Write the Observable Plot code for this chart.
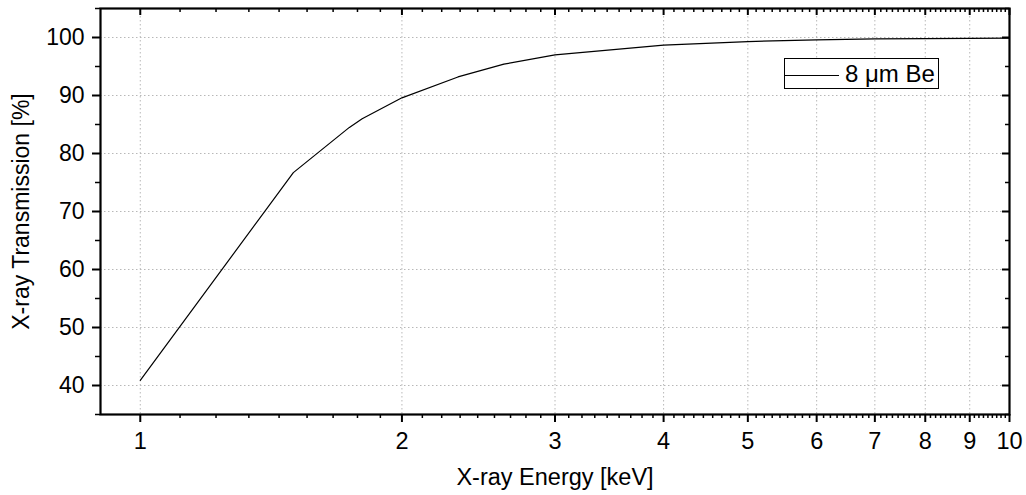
<!DOCTYPE html>
<html>
<head>
<meta charset="utf-8">
<script src="https://cdn.jsdelivr.net/npm/d3@7"></script>
<script src="https://cdn.jsdelivr.net/npm/@observablehq/plot@0.6"></script>
<style>
  html, body { margin: 0; padding: 0; background: #fff; }
  #wrap { position: relative; width: 1026px; height: 495px; font-family: "Liberation Sans", Arial, sans-serif; }
  #legend { position: absolute; left: 784px; top: 58px; width: 153px; height: 29px; border: 1px solid #000; background: #fff; box-sizing: content-box; }
  #legend .ln { position: absolute; left: 0; top: 16px; width: 54px; height: 0; border-top: 1px solid #000; }
  #legend .tx { position: absolute; left: 60px; top: 1px; font-size: 24px; line-height: 28px; color: #000; white-space: nowrap; }
</style>
</head>
<body>
<div id="wrap"><div id="chart"></div>
<div id="legend"><div class="ln"></div><div class="tx">8 μm Be</div></div></div>
<script>
// Data
const energyKeV = [1, 1.5, 1.74, 1.8, 2, 2.32, 2.62, 3, 4, 5, 6, 7, 8, 9, 10];
const transmission = [40.9, 76.7, 84.5, 86.0, 89.6, 93.2, 95.4, 97.0, 98.7, 99.3, 99.6, 99.75, 99.8, 99.85, 99.9];
const seriesName = "8 μm Be";

const xMajorTicks = [1, 2, 3, 4, 5, 6, 7, 8, 9, 10];
const yMajorTicks = [40, 50, 60, 70, 80, 90, 100];
const yMinorTicks = [35, 45, 55, 65, 75, 85, 95, 105];

const xMinorTicks = [];
for (let n = 1; n < 10; n++) for (let k = 1; k < 9; k++) xMinorTicks.push(n + k / 9);

const data = energyKeV.map((e, i) => ({e, t: transmission[i]}));

const W = 1026, H = 495;
const mL = 100, mR = 17, mT = 8, mB = 81;
const frameW = W - mL - mR, frameH = H - mT - mB;
const font = "Liberation Sans, Arial, sans-serif";
const gridStyle = {stroke: "#b8b8b8", strokeOpacity: 1, strokeDasharray: "1.5,2.5", strokeWidth: 1};

const chart = Plot.plot({
  width: W, height: H,
  marginLeft: mL, marginRight: mR, marginTop: mT, marginBottom: mB,
  style: {fontFamily: font, fontSize: "23px", color: "#000", background: "#fff"},
  x: {type: "log", domain: [0.9, 10]},
  y: {domain: [35, 105]},
  marks: [
    Plot.gridX(xMajorTicks, gridStyle),
    Plot.gridY(yMajorTicks, gridStyle),
    Plot.line(data, {x: "e", y: "t", stroke: "#000", strokeWidth: 1.2}),
    // bottom axis
    Plot.axisX(xMinorTicks, {anchor: "bottom", tickSize: 4, text: null, strokeWidth: 1.5, label: null}),
    Plot.axisX(xMajorTicks, {anchor: "bottom", tickSize: 8, tickPadding: 10, strokeWidth: 2, fontSize: 23.5,
      tickFormat: d => String(d), label: "X-ray Energy [keV]", labelAnchor: "center", labelOffset: 70, labelArrow: "none"}),
    // left axis
    Plot.axisY(yMinorTicks, {anchor: "left", tickSize: 5, text: null, strokeWidth: 1.5, label: null}),
    Plot.axisY(yMajorTicks, {anchor: "left", tickSize: 8, tickPadding: 8, strokeWidth: 2, fontSize: 23,
      tickFormat: d => String(d), label: "X-ray Transmission [%]", labelAnchor: "center", labelOffset: 88, labelArrow: "none"}),
    // top inward ticks
    Plot.tickX(xMinorTicks, {x: d => d, stroke: "#000", strokeWidth: 1.5, insetBottom: frameH - 4}),
    Plot.tickX(xMajorTicks, {x: d => d, stroke: "#000", strokeWidth: 2, insetBottom: frameH - 7}),
    // right inward ticks
    Plot.tickY(yMinorTicks, {y: d => d, stroke: "#000", strokeWidth: 1.5, insetLeft: frameW - 4}),
    Plot.tickY(yMajorTicks, {y: d => d, stroke: "#000", strokeWidth: 2, insetLeft: frameW - 7}),
    Plot.frame({stroke: "#000", strokeWidth: 2.2})
  ]
});
document.getElementById("chart").appendChild(chart);
</script>
</body>
</html>
